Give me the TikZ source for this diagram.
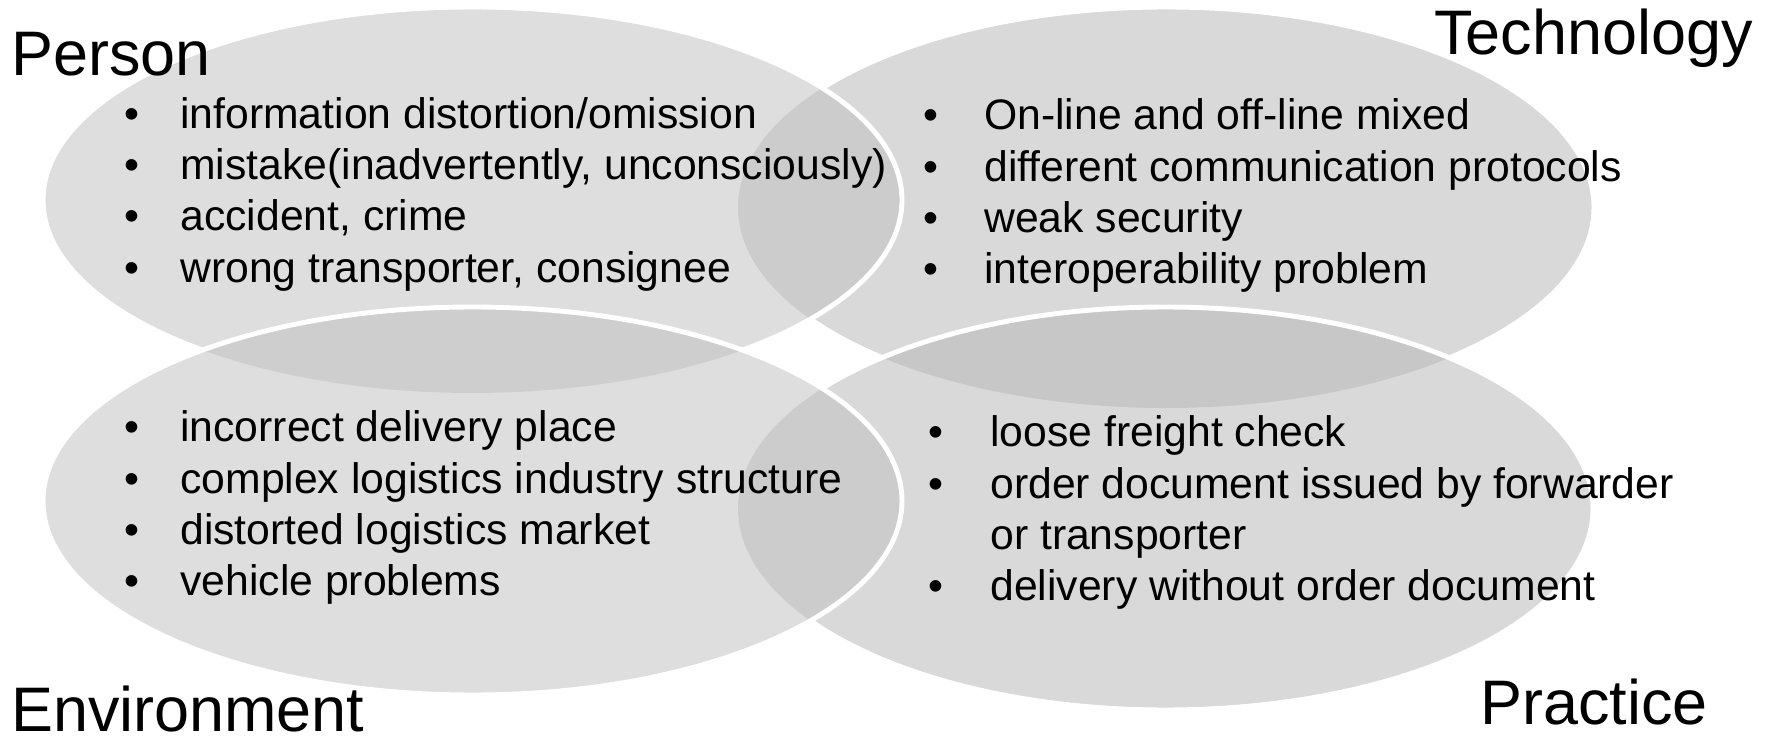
\documentclass[tikz,border=0pt]{standalone}
\usepackage{fontspec}
\setmainfont{Liberation Sans}
\definecolor{venngrey}{gray}{0.76}
\definecolor{venngreydark}{gray}{0.725}
\tikzset{blob/.style={fill=venngrey, fill opacity=0.55}}
\tikzset{dblob/.style={fill=venngreydark, fill opacity=0.55}}
\tikzset{rim/.style={draw=white, line width=2.8pt}}
\tikzset{heading/.style={inner sep=0pt, anchor=base west, font=\fontsize{35.8}{43}\selectfont}}
\tikzset{items/.style={inner sep=0pt, anchor=west, font=\fontsize{24.3}{29.2}\selectfont}}
% clip away the inside of an ellipse (reverse winding rectangle)
\newcommand{\clipout}[3]{\clip (-100,-100) -- (-100,900) -- (1900,900) -- (1900,-100) -- cycle
  (#1) ellipse [x radius=#2, y radius=#3];}

\begin{document}
\begin{tikzpicture}[x=0.02cm, y=-0.02cm]
    \useasboundingbox (0,0) rectangle (1774,739);

    \coordinate (P) at (472.5, 200);
    \coordinate (T) at (1166, 207.5);
    \coordinate (E) at (472.5, 501);
    \coordinate (R) at (1165.5, 508.5);

    \fill[dblob] (T) ellipse [x radius=428, y radius=200.5];
    \fill[blob]  (P) ellipse [x radius=429.5, y radius=193];
    \fill[dblob] (R) ellipse [x radius=427.5, y radius=201.5];
    \fill[blob]  (E) ellipse [x radius=429.5, y radius=194];

    % white rims, hidden below the ellipses drawn later
    \begin{scope}
        \clipout{P}{429.5}{193}
        \clipout{R}{427.5}{201.5}
        \clipout{E}{429.5}{194}
        \draw[rim] (T) ellipse [x radius=428, y radius=200.5];
    \end{scope}
    \begin{scope}
        \clipout{R}{427.5}{201.5}
        \clipout{E}{429.5}{194}
        \draw[rim] (P) ellipse [x radius=429.5, y radius=193];
    \end{scope}
    \begin{scope}
        \clipout{E}{429.5}{194}
        \draw[rim] (R) ellipse [x radius=427.5, y radius=201.5];
    \end{scope}
    \draw[rim] (E) ellipse [x radius=429.5, y radius=194];

    \node[heading] (person) at (11, 76) {Person};
    \node[heading] (technology) at (1434, 55) {Technology};
    \node[heading] (environment) at (11, 731) {Environment};
    \node[heading] (practice) at (1480, 724) {Practice};

    \node[items] (personlist) at (124, 195) {\begin{tabular}{@{}p{31.9pt}@{}l@{}}
        \textbullet & information distortion/omission\\
        \textbullet & mistake(inadvertently, unconsciously)\\
        \textbullet & accident, crime\\
        \textbullet & wrong transporter, consignee
    \end{tabular}};
    \node[items] (techlist) at (923, 196.5) {\begin{tabular}{@{}p{34.7pt}@{}l@{}}
        \textbullet & On-line and off-line mixed\\
        \textbullet & different communication protocols\\
        \textbullet & weak security\\
        \textbullet & interoperability problem
    \end{tabular}};
    \node[items] (envlist) at (124, 508.5) {\begin{tabular}{@{}p{31.9pt}@{}l@{}}
        \textbullet & incorrect delivery place\\
        \textbullet & complex logistics industry structure\\
        \textbullet & distorted logistics market\\
        \textbullet & vehicle problems
    \end{tabular}};
    \node[items] (practicelist) at (928, 513.5) {\begin{tabular}{@{}p{35.3pt}@{}l@{}}
        \textbullet & loose freight check\\
        \textbullet & order document issued by forwarder\\
                    & or transporter\\
        \textbullet & delivery without order document
    \end{tabular}};
\end{tikzpicture}
\end{document}
